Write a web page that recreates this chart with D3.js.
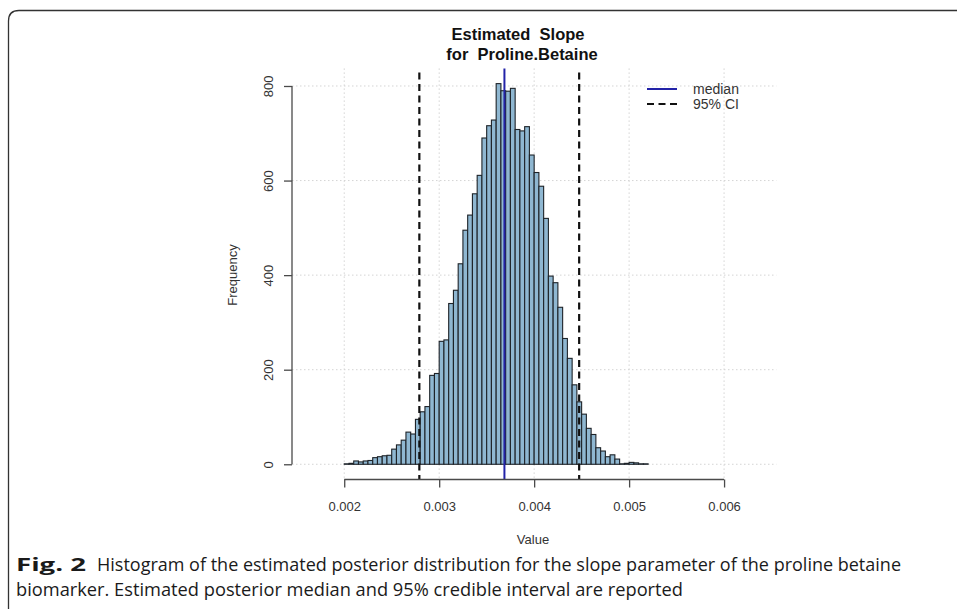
<!DOCTYPE html>
<html>
<head>
<meta charset="utf-8">
<script src="https://cdn.jsdelivr.net/npm/d3@7"></script>
<style>
    body { margin: 0; background: #fff; }
    svg { display: block; }
</style>
</head>
<body>
<svg id="chart"></svg>
<script>

// histogram of posterior draws, bin width 0.00005 starting at 0.002
let binStart = 0.002
let binWidth = 0.00005
let counts = [1, 2, 7, 5, 7, 8, 14, 16, 18, 19,
    32, 41, 51, 68, 64, 95, 111, 122, 188, 192,
    260, 263, 340, 368, 424, 495, 527, 572, 611, 690,
    716, 728, 805, 790, 789, 795, 708, 705, 714, 654,
    617, 588, 520, 398, 384, 332, 266, 224, 168, 132,
    106, 76, 63, 35, 28, 16, 20, 11, 1, 2,
    4, 3, 1, 1]

let median = 0.003687
let ci = [0.002791, 0.004474]

let xTicks = [0.002, 0.003, 0.004, 0.005, 0.006]
let yTicks = [0, 200, 400, 600, 800]
let xDomain = [0.00145, 0.00655]

let titleLines = ["Estimated  Slope", "for  Proline.Betaine"]
let legendItems = [
    {label: "median", color: "#2323a8", dash: null},
    {label: "95% CI", color: "#111", dash: "7,4.5"}
]
let captionBold = "Fig. 2"
let captionLines = [
    "Histogram of the estimated posterior distribution for the slope parameter of the proline betaine",
    "biomarker. Estimated posterior median and 95% credible interval are reported"
]

let W = 957, H = 609
let plot = {left: 292, right: 776.3, top: 68.4, bottom: 479.5}

let svg = d3.select("#chart")
    .attr("width", W)
    .attr("height", H)
    .style("font-family", "'Liberation Sans', Arial, sans-serif")

let bins = counts.map((c, i) => {
    return {x0: binStart + i * binWidth, x1: binStart + (i + 1) * binWidth, n: c}
})

let x = d3.scaleLinear()
    .domain(xDomain)
    .range([plot.left, plot.right])

// R-style 4% extension on y
let ymax = d3.max(counts)
let y = d3.scaleLinear()
    .domain([-0.04 * ymax, ymax * 1.04])
    .range([plot.bottom, plot.top])

// outer figure frame
svg.append("path")
    .attr("d", "M957,10.5 L19,10.5 Q8.5,10.5 8.5,21 L8.5,609")
    .attr("fill", "none")
    .attr("stroke", "#333")
    .attr("stroke-width", 1.3)

// dotted grid
let grid = svg.append("g")
grid.selectAll(".gx")
    .data(xTicks)
    .enter()
    .append("line")
    .attr("x1", d => x(d)).attr("x2", d => x(d))
    .attr("y1", plot.top).attr("y2", plot.bottom)
grid.selectAll(".gy")
    .data(yTicks)
    .enter()
    .append("line")
    .attr("x1", plot.left).attr("x2", plot.right)
    .attr("y1", d => y(d)).attr("y2", d => y(d))
grid.selectAll("line")
    .attr("stroke", "#d4d4d4")
    .attr("stroke-width", 1)
    .attr("stroke-dasharray", "1.5,2.5")

// bars
svg.append("g")
    .selectAll("rect")
    .data(bins)
    .enter()
    .append("rect")
    .attr("x", d => x(d.x0))
    .attr("width", d => x(d.x1) - x(d.x0))
    .attr("y", d => y(d.n))
    .attr("height", d => y(0) - y(d.n))
    .attr("fill", "#8fb7d1")
    .attr("stroke", "#1e2328")
    .attr("stroke-width", 1.1)

// median and credible interval
svg.append("line")
    .attr("x1", x(median)).attr("x2", x(median))
    .attr("y1", plot.top).attr("y2", plot.bottom)
    .attr("stroke", legendItems[0].color)
    .attr("stroke-width", 2)

svg.selectAll(".ci")
    .data(ci)
    .enter()
    .append("line")
    .attr("x1", d => x(d)).attr("x2", d => x(d))
    .attr("y1", plot.top).attr("y2", plot.bottom)
    .attr("stroke", legendItems[1].color)
    .attr("stroke-width", 2.2)
    .attr("stroke-dasharray", legendItems[1].dash)
    .attr("stroke-dashoffset", -4)

// axes
let axisColor = "#4a4a4a"
let xAxis = d3.axisBottom(x)
    .tickValues(xTicks)
    .tickFormat(d3.format(".3f"))
    .tickSizeInner(8)
    .tickSizeOuter(0)
    .tickPadding(14)
let gx = svg.append("g")
    .attr("transform", "translate(0," + plot.bottom + ")")
    .call(xAxis)
gx.select(".domain")
    .attr("d", "M" + x(xTicks[0]) + ",0H" + x(xTicks[xTicks.length - 1]))

let yAxis = d3.axisLeft(y)
    .tickValues(yTicks)
    .tickSizeInner(8)
    .tickSizeOuter(0)
let gy = svg.append("g")
    .attr("transform", "translate(" + plot.left + ",0)")
    .call(yAxis)
gy.select(".domain")
    .attr("d", "M0," + y(yTicks[0]) + "V" + y(yTicks[yTicks.length - 1]))
gy.selectAll(".tick text")
    .attr("x", null).attr("dy", null)
    .attr("transform", "translate(-24,0) rotate(-90)")
    .attr("text-anchor", "middle")
    .attr("dy", "0.35em")

svg.selectAll(".domain, .tick line")
    .attr("stroke", axisColor)
    .attr("stroke-width", 1.3)
svg.selectAll(".tick text")
    .attr("fill", "#333")
    .style("font-size", "13px")
    .style("font-family", "'Liberation Sans', Arial, sans-serif")

// axis titles
svg.append("text")
    .attr("x", 533).attr("y", 544)
    .attr("text-anchor", "middle")
    .attr("fill", "#333")
    .style("font-size", "13px")
    .text("Value")

svg.append("text")
    .attr("transform", "translate(232,275) rotate(-90)")
    .attr("text-anchor", "middle")
    .attr("dy", "0.35em")
    .attr("fill", "#333")
    .style("font-size", "13px")
    .text("Frequency")

// title
svg.selectAll(".title")
    .data(titleLines)
    .enter()
    .append("text")
    .attr("x", (d, i) => i == 0 ? 518 : 522)
    .attr("y", (d, i) => 40 + i * 20)
    .attr("text-anchor", "middle")
    .attr("fill", "#111")
    .style("font-size", "16.5px")
    .style("font-weight", "bold")
    .style("white-space", "pre")
    .text(d => d)

// legend (no box)
let leg = svg.append("g")
    .selectAll("g")
    .data(legendItems)
    .enter()
    .append("g")
    .attr("transform", (d, i) => "translate(647," + (89 + i * 15) + ")")
leg.append("line")
    .attr("x1", 0).attr("x2", 30)
    .attr("stroke", d => d.color)
    .attr("stroke-width", 2)
    .attr("stroke-dasharray", d => d.dash)
leg.append("text")
    .attr("x", 46)
    .attr("dy", "0.35em")
    .attr("fill", "#333")
    .style("font-size", "14px")
    .text(d => d.label)

// caption
let cap = svg.append("g")
    .style("font-family", "'Open Sans', 'Noto Sans', sans-serif")
    .attr("fill", "#1a1a1a")
cap.append("text")
    .attr("x", 16).attr("y", 571)
    .attr("textLength", 70)
    .attr("lengthAdjust", "spacingAndGlyphs")
    .style("font-size", "18.5px")
    .style("font-weight", "bold")
    .text(captionBold)
cap.selectAll(".capline")
    .data(captionLines)
    .enter()
    .append("text")
    .attr("x", (d, i) => i == 0 ? 97 : 16)
    .attr("y", (d, i) => 571 + i * 25)
    .attr("textLength", (d, i) => i == 0 ? 804 : 667)
    .attr("lengthAdjust", "spacingAndGlyphs")
    .style("font-size", "18.5px")
    .text(d => d)

</script>
</body>
</html>
